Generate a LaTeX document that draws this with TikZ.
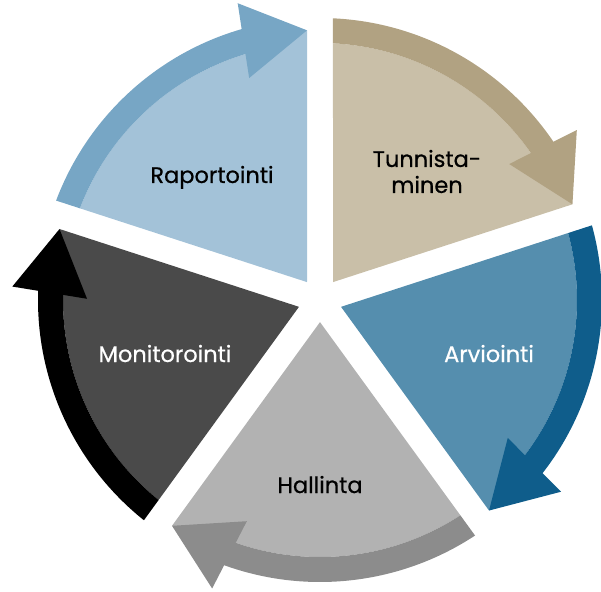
\documentclass[tikz,border=0pt]{standalone}
\usepackage{fontspec}
\setmainfont{Poppins}[Ligatures=NoCommon, FakeBold=0.6]
\definecolor{raplight}{HTML}{A3C2D8}
\definecolor{rapdark}{HTML}{77A6C5}
\definecolor{tunlight}{HTML}{C9BFA8}
\definecolor{tundark}{HTML}{B1A282}
\definecolor{arvlight}{HTML}{558EAE}
\definecolor{arvdark}{HTML}{0F5D8B}
\definecolor{hallight}{HTML}{B2B2B2}
\definecolor{haldark}{HTML}{8C8C8C}
\definecolor{monlight}{HTML}{4A4A4A}
\definecolor{mondark}{HTML}{000000}
\newcommand\drawsegment[4]{%
  \pgfmathsetmacro\segBis{(#1+#2)/2}%
  \pgfmathsetmacro\segSin{#1-asin(13/257)}%
  \pgfmathsetmacro\segSout{#1-asin(13/282)}%
  \pgfmathsetmacro\segTip{#2+asin(13/270)}%
  \pgfmathsetmacro\segLe{#2+16.8}%
  \pgfmathsetmacro\segBe{#2+16}%
  \pgfmathsetmacro\segHo{#2+15.5}%
  \pgfmathsetmacro\segHi{#2+17.7}%
  \fill[#3] (\segBis:22.12) -- (\segSin:257) arc[start angle=\segSin, end angle=\segLe, radius=257] -- (\segTip:270) -- cycle;
  \fill[#4] (\segSout:282) arc[start angle=\segSout, end angle=\segBe, radius=282] -- (\segBe:257) arc[start angle=\segBe, end angle=\segSin, radius=257] -- cycle;
  \fill[#4] (\segHo:308) -- (\segTip:270) -- (\segHi:233) -- cycle;
}
\tikzset{lbl/.style={font=\fontsize{22.5}{26}\selectfont, inner sep=0pt, anchor=base}}
\begin{document}
\begin{tikzpicture}[x=1pt,y=1pt]
\useasboundingbox (-320,-291) rectangle (281,300);
\drawsegment{162}{90}{raplight}{rapdark}
\drawsegment{90}{18}{tunlight}{tundark}
\drawsegment{18}{-54}{arvlight}{arvdark}
\drawsegment{-54}{-126}{hallight}{haldark}
\drawsegment{-126}{-198}{monlight}{mondark}
\node[lbl, text=black] (rap) at (-108,117) {Raportointi};
\node[lbl, text=black, anchor=center, align=center] (tun) at (107,128.5) {Tunnista-\\minen};
\node[lbl, text=white] (arv) at (169,-62) {Arviointi};
\node[lbl, text=black] (hal) at (0,-193) {Hallinta};
\node[lbl, text=white] (mon) at (-155,-62) {Monitorointi};
\end{tikzpicture}
\end{document}
